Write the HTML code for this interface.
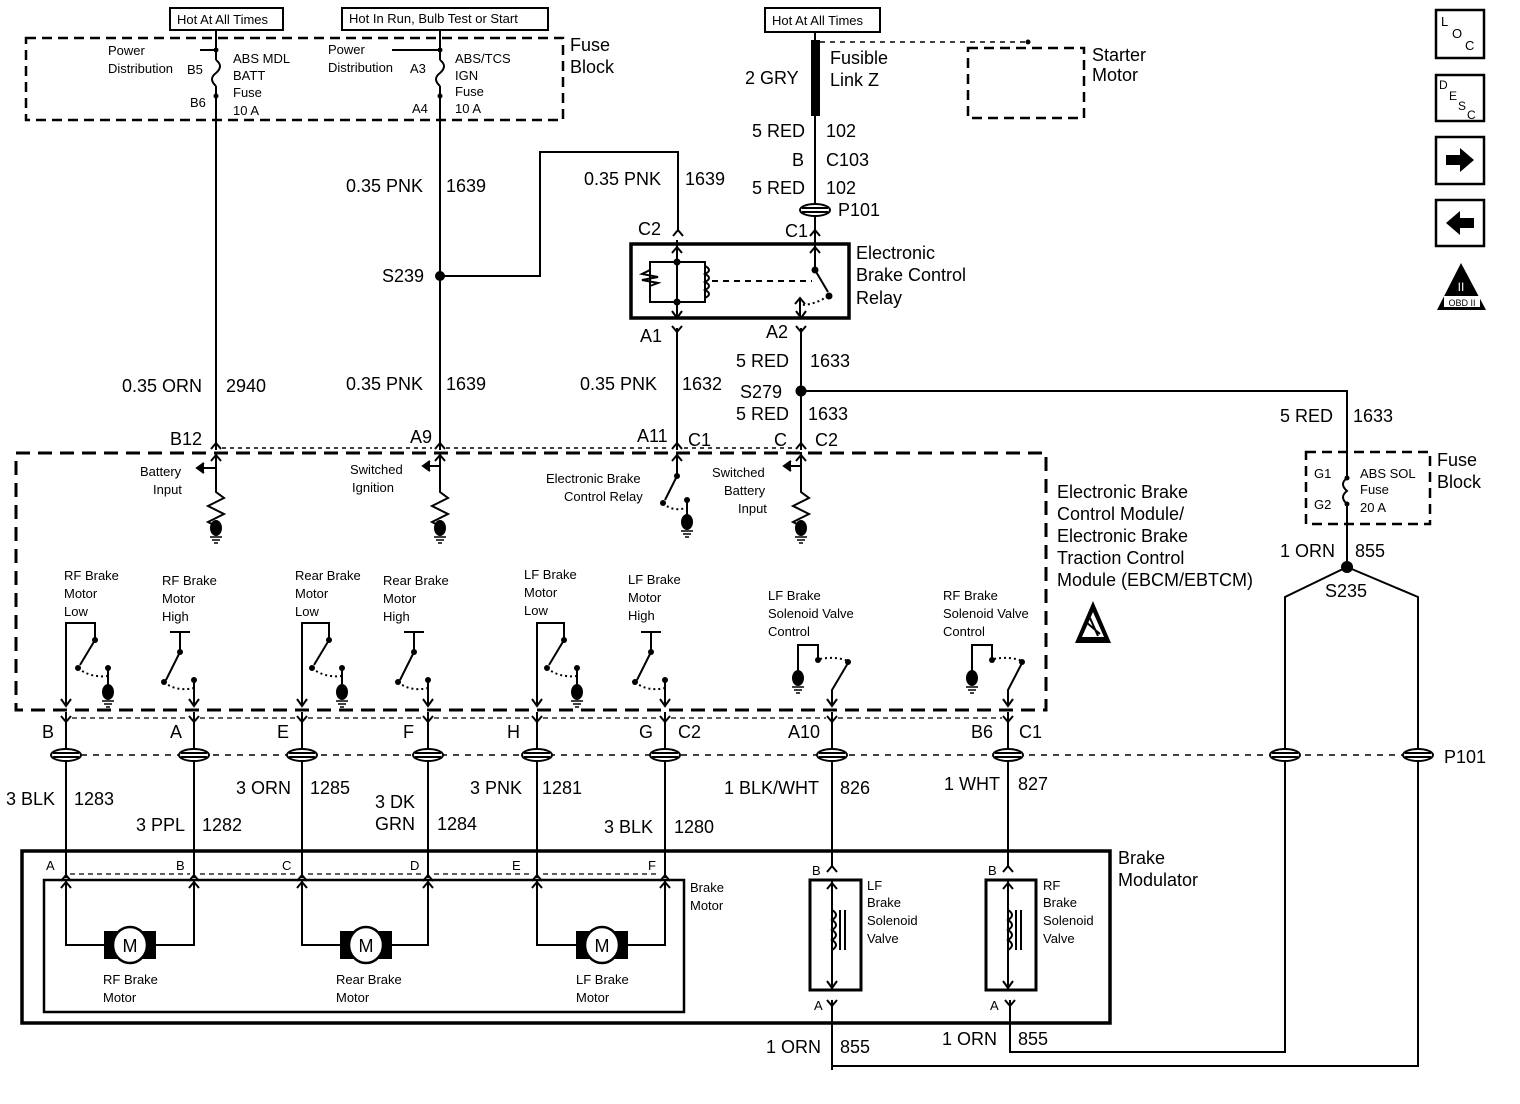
<!DOCTYPE html>
<html><head><meta charset="utf-8"><style>
html,body{margin:0;padding:0;background:#fff}
svg{display:block}
text{font-family:"Liberation Sans",Arial,sans-serif;fill:#000}
.w{font-size:18px}
.s{font-size:13px}
</style></head><body>
<svg width="1520" height="1104" viewBox="0 0 1520 1104" xmlns="http://www.w3.org/2000/svg">
<defs>
<g id="gnd"><ellipse cx="0" cy="0" rx="6" ry="8" fill="#000"/><line x1="-6" y1="9" x2="6" y2="9" stroke="#000" stroke-width="1.5"/><line x1="-4" y1="12" x2="4" y2="12" stroke="#000" stroke-width="1.5"/><line x1="-2" y1="15" x2="2" y2="15" stroke="#000" stroke-width="1.5"/></g>
<g id="pc"><ellipse cx="0" cy="0" rx="15" ry="6" fill="#fff" stroke="#000" stroke-width="2"/><line x1="-13" y1="-2" x2="13" y2="-2" stroke="#000" stroke-width="2"/><line x1="-13" y1="2" x2="13" y2="2" stroke="#000" stroke-width="2"/></g>
<g id="yd"><polyline points="-5,-6 0,0 5,-6" fill="none" stroke="#000" stroke-width="2"/></g>
<g id="yu"><polyline points="-5,6 0,0 5,6" fill="none" stroke="#000" stroke-width="2"/></g>
<g id="ad"><polyline points="-5,-7 0,0 5,-7" fill="none" stroke="#000" stroke-width="2"/></g>
<g id="motor"><rect x="-26" y="-14" width="52" height="28" fill="#000"/><ellipse cx="0" cy="0" rx="17" ry="18" fill="#fff" stroke="#000" stroke-width="2.5"/></g>
</defs>
<g stroke="#000" stroke-width="2" fill="none">
<!-- top label boxes -->
<rect x="170" y="8" width="113" height="22"/>
<rect x="342" y="8" width="206" height="22"/>
<rect x="765" y="8" width="115" height="24"/>
<!-- fuse block dashed -->
<rect x="26" y="38" width="537" height="82" stroke-dasharray="10,6" stroke-width="2.5"/>
<!-- wires top -->
<path d="M216 30 V60 M216 86 V450"/>
<path d="M216 60 q8 6 0 13 q-8 6 0 13"/>
<path d="M440 30 V60 M440 86 V450"/>
<path d="M440 60 q8 6 0 13 q-8 6 0 13"/>
<path d="M216 50 H200 M440 50 H392"/>
<path d="M440 276 H540 V152 H678 V232"/>
<!-- right top -->
<path d="M815 32 V40 M815 116 V240"/>
<path d="M820 42 H1028" stroke-dasharray="5,5" stroke-width="1.5"/>
<rect x="968" y="48" width="116" height="70" stroke-dasharray="10,6" stroke-width="2.5"/>
<!-- relay -->
<rect x="631" y="244" width="218" height="74" stroke-width="3.5"/>
<path d="M677 240 V318 M677 262 H705 V302 H650 V262 H677"/>
<path d="M705 266 q8 4 0 8 q8 4 0 8 q8 4 0 8 q8 4 0 8"/>
<path d="M650 270 l-8 4 l16 3 l-16 3 l16 3 l-8 3"/>
<path d="M712 281 H812" stroke-dasharray="6,5"/>
<path d="M815 240 V270 L828 292"/>
<path d="M828 296 Q815 305 800 305" stroke-dasharray="2,3"/>
<path d="M800 298 V318"/>
<!-- lower relay wires -->
<path d="M677 328 V450 M801 328 V450 M801 391 H1347 V478 M1347 504 V567"/>
<path d="M1347 478 q-8 6 0 13 q-8 6 0 13"/>
<rect x="1306" y="452" width="124" height="72" stroke-dasharray="10,6" stroke-width="2.5"/>
<path d="M1347 567 L1285 597 V1052 H1010 V1006 M1347 567 L1418 597 V1066 H832 V1006"/>
<!-- EBCM dashed box -->
<rect x="16" y="453" width="1030" height="257" stroke-dasharray="14,8" stroke-width="3"/>
<path d="M222 448 H432 M446 448 H670 M684 448 H795" stroke-dasharray="4,4" stroke-width="1.5"/>
<!-- inputs -->
<path d="M216 452 V492 L224 498 L208 506 L224 514 L208 522 L216 526 V522"/>
<path d="M216 468 H200"/><path d="M204 463 L197 468 L204 473" fill="#000"/>
<path d="M440 452 V492 L448 498 L432 506 L448 514 L432 522 L440 526 V522"/>
<path d="M440 466 H426"/><path d="M430 461 L423 466 L430 471" fill="#000"/>
<path d="M677 452 V476 L665 500"/>
<path d="M663 503 Q672 512 686 508" stroke-dasharray="2,3"/>
<path d="M687 500 V520"/>
<path d="M801 452 V492 L809 498 L793 506 L809 514 L793 522 L801 526 V522"/>
<path d="M801 466 H787"/><path d="M791 461 L784 466 L791 471" fill="#000"/>
<!-- motor switches: low -->
<path d="M66 706 V623 H95 V640 L80 665"/><path d="M78 668 Q90 678 108 676" stroke-dasharray="2,3"/><path d="M108 668 V690"/>
<path d="M302 706 V623 H329 V640 L314 665"/><path d="M312 668 Q324 678 342 676" stroke-dasharray="2,3"/><path d="M342 668 V690"/>
<path d="M537 706 V623 H564 V640 L549 665"/><path d="M547 668 Q559 678 577 676" stroke-dasharray="2,3"/><path d="M577 668 V690"/>
<!-- high -->
<path d="M170 632 H190 M180 632 V652 L166 680"/><path d="M164 682 Q176 692 194 688" stroke-dasharray="2,3"/><path d="M194 680 V706"/>
<path d="M404 632 H424 M414 632 V652 L400 680"/><path d="M398 682 Q410 692 428 688" stroke-dasharray="2,3"/><path d="M428 678 V706"/>
<path d="M641 632 H661 M651 632 V652 L637 680"/><path d="M635 682 Q647 692 665 688" stroke-dasharray="2,3"/><path d="M665 678 V706"/>
<!-- solenoid controls -->
<path d="M798 672 V645 H818 V660"/><path d="M820 659 Q836 656 848 661" stroke-dasharray="2,3"/><path d="M848 663 L832 690 V706"/>
<path d="M972 672 V645 H992 V660"/><path d="M994 659 Q1010 656 1022 661" stroke-dasharray="2,3"/><path d="M1022 663 L1008 690 V706"/>
<!-- connector row wires -->
<path d="M66 712 V878 M194 712 V878 M302 712 V878 M428 712 V878 M537 712 V878 M665 712 V878 M832 712 V868 M1008 712 V868"/>
<path d="M72 718 H188 M200 718 H296 M308 718 H422 M434 718 H531 M543 718 H659 M671 718 H826 M838 718 H1002" stroke-dasharray="5,4" stroke-width="1.2"/>
<path d="M81 755 H1430" stroke-dasharray="6,6" stroke-width="1.5"/>
<!-- modulator -->
<rect x="22" y="851" width="1088" height="172" stroke-width="3.5"/>
<rect x="44" y="880" width="640" height="132" stroke-width="2.5"/>
<path d="M70 874 H190 M200 874 H296 M308 874 H422 M434 874 H531 M543 874 H659" stroke-dasharray="5,4" stroke-width="1.2"/>
<path d="M66 880 V945 H194 V880 M302 880 V945 H428 V880 M537 880 V945 H665 V880"/>
<!-- solenoids -->
<rect x="810" y="880" width="51" height="110" stroke-width="3"/>
<rect x="986" y="880" width="50" height="110" stroke-width="3"/>
<path d="M832 880 V990 M1008 880 V990"/>
<path d="M832 910 q8 5 0 10 q8 5 0 10 q8 5 0 10 q8 5 0 10"/>
<path d="M840 910 V950 M845 910 V950"/>
<path d="M1008 910 q8 5 0 10 q8 5 0 10 q8 5 0 10 q8 5 0 10"/>
<path d="M1016 910 V950 M1021 910 V950"/>
<path d="M832 1000 V1070 M1010 1000 V1052"/>
</g>
<!-- black fills -->
<rect x="811" y="40" width="9" height="76" fill="#000"/>
<g fill="#000">
<circle cx="440" cy="276" r="5"/><circle cx="801" cy="391" r="5.5"/><circle cx="1347" cy="567" r="6"/>
<circle cx="216" cy="50" r="2.5"/><circle cx="440" cy="50" r="2.5"/><circle cx="216" cy="96" r="2.5"/><circle cx="440" cy="96" r="2.5"/>
<circle cx="677" cy="262" r="3.5"/><circle cx="677" cy="302" r="3.5"/><circle cx="815" cy="270" r="3.5"/><circle cx="829" cy="296" r="3.5"/>
<circle cx="1028" cy="42" r="2.5"/>
<circle cx="95" cy="640" r="3"/><circle cx="78" cy="668" r="3"/><circle cx="108" cy="668" r="3"/>
<circle cx="329" cy="640" r="3"/><circle cx="312" cy="668" r="3"/><circle cx="342" cy="668" r="3"/>
<circle cx="564" cy="640" r="3"/><circle cx="547" cy="668" r="3"/><circle cx="577" cy="668" r="3"/>
<circle cx="180" cy="652" r="3"/><circle cx="164" cy="682" r="3"/><circle cx="194" cy="680" r="3"/>
<circle cx="414" cy="652" r="3"/><circle cx="398" cy="682" r="3"/><circle cx="428" cy="680" r="3"/>
<circle cx="651" cy="652" r="3"/><circle cx="635" cy="682" r="3"/><circle cx="665" cy="680" r="3"/>
<circle cx="818" cy="660" r="3"/><circle cx="848" cy="662" r="3"/><circle cx="972" cy="660" r="0"/><circle cx="992" cy="660" r="3"/><circle cx="1022" cy="662" r="3"/>
<circle cx="677" cy="476" r="3"/><circle cx="663" cy="503" r="3"/><circle cx="687" cy="500" r="3"/>
<circle cx="1347" cy="478" r="2.5"/><circle cx="1347" cy="504" r="2.5"/>
</g>
<!-- grounds -->
<use href="#gnd" x="216" y="528"/><use href="#gnd" x="440" y="528"/><use href="#gnd" x="687" y="522"/><use href="#gnd" x="801" y="528"/>
<use href="#gnd" x="108" y="692"/><use href="#gnd" x="342" y="692"/><use href="#gnd" x="577" y="692"/>
<use href="#gnd" x="798" y="678"/><use href="#gnd" x="972" y="678"/>
<!-- connectors -->
<use href="#pc" x="815" y="210"/>
<use href="#pc" x="66" y="755"/><use href="#pc" x="194" y="755"/><use href="#pc" x="302" y="755"/><use href="#pc" x="428" y="755"/><use href="#pc" x="537" y="755"/><use href="#pc" x="665" y="755"/><use href="#pc" x="832" y="755"/><use href="#pc" x="1008" y="755"/><use href="#pc" x="1285" y="755"/><use href="#pc" x="1418" y="755"/>
<use href="#yu" x="216" y="443"/><use href="#yu" x="440" y="443"/><use href="#yu" x="677" y="443"/><use href="#yu" x="801" y="443"/>
<use href="#yu" x="678" y="230"/><use href="#yu" x="815" y="230"/>
<use href="#yd" x="677" y="332"/><use href="#yd" x="801" y="332"/>
<use href="#yd" x="66" y="722"/><use href="#yd" x="194" y="722"/><use href="#yd" x="302" y="722"/><use href="#yd" x="428" y="722"/><use href="#yd" x="537" y="722"/><use href="#yd" x="665" y="722"/><use href="#yd" x="832" y="722"/><use href="#yd" x="1008" y="722"/>
<use href="#ad" x="66" y="706"/><use href="#ad" x="194" y="706"/><use href="#ad" x="302" y="706"/><use href="#ad" x="428" y="706"/><use href="#ad" x="537" y="706"/><use href="#ad" x="665" y="706"/><use href="#ad" x="832" y="706"/><use href="#ad" x="1008" y="706"/>
<use href="#ad" x="801" y="318"/><use href="#ad" x="677" y="318"/>
<use href="#yu" x="66" y="875"/><use href="#yu" x="194" y="875"/><use href="#yu" x="302" y="875"/><use href="#yu" x="428" y="875"/><use href="#yu" x="537" y="875"/><use href="#yu" x="665" y="875"/><use href="#yu" x="832" y="866"/><use href="#yu" x="1008" y="866"/>
<use href="#yu" x="66" y="882"/><use href="#yu" x="194" y="882"/><use href="#yu" x="302" y="882"/><use href="#yu" x="428" y="882"/><use href="#yu" x="537" y="882"/><use href="#yu" x="665" y="882"/>
<use href="#yu" x="677" y="247"/><use href="#yu" x="815" y="247"/><use href="#yu" x="800" y="298"/>
<use href="#yu" x="832" y="883"/><use href="#yu" x="1008" y="883"/><use href="#ad" x="832" y="988"/><use href="#ad" x="1008" y="988"/>
<use href="#yd" x="832" y="1006"/><use href="#yd" x="1010" y="1006"/>
<use href="#yu" x="216" y="455"/><use href="#yu" x="440" y="455"/><use href="#yu" x="677" y="455"/><use href="#yu" x="801" y="455"/>
<use href="#motor" x="130" y="945"/><use href="#motor" x="366" y="945"/><use href="#motor" x="602" y="945"/>
<text x="130" y="952" font-size="18" text-anchor="middle">M</text><text x="366" y="952" font-size="18" text-anchor="middle">M</text><text x="602" y="952" font-size="18" text-anchor="middle">M</text>
<!-- small texts -->
<g class="s">
<text x="177" y="24">Hot At All Times</text>
<text x="349" y="23">Hot In Run, Bulb Test or Start</text>
<text x="772" y="25">Hot At All Times</text>
<text x="108" y="55">Power</text><text x="108" y="73">Distribution</text><text x="187" y="74">B5</text><text x="190" y="107">B6</text>
<text x="233" y="63">ABS MDL</text><text x="233" y="80">BATT</text><text x="233" y="97">Fuse</text><text x="233" y="115">10 A</text>
<text x="328" y="54">Power</text><text x="328" y="72">Distribution</text><text x="410" y="73">A3</text><text x="412" y="113">A4</text>
<text x="455" y="63">ABS/TCS</text><text x="455" y="80">IGN</text><text x="455" y="96">Fuse</text><text x="455" y="113">10 A</text>
<text x="140" y="476">Battery</text><text x="153" y="494">Input</text>
<text x="350" y="474">Switched</text><text x="352" y="492">Ignition</text>
<text x="546" y="483">Electronic Brake</text><text x="564" y="501">Control Relay</text>
<text x="712" y="477">Switched</text><text x="724" y="495">Battery</text><text x="738" y="513">Input</text>
<text x="64" y="580">RF Brake</text><text x="64" y="598">Motor</text><text x="64" y="616">Low</text>
<text x="162" y="585">RF Brake</text><text x="162" y="603">Motor</text><text x="162" y="621">High</text>
<text x="295" y="580">Rear Brake</text><text x="295" y="598">Motor</text><text x="295" y="616">Low</text>
<text x="383" y="585">Rear Brake</text><text x="383" y="603">Motor</text><text x="383" y="621">High</text>
<text x="524" y="579">LF Brake</text><text x="524" y="597">Motor</text><text x="524" y="615">Low</text>
<text x="628" y="584">LF Brake</text><text x="628" y="602">Motor</text><text x="628" y="620">High</text>
<text x="768" y="600">LF Brake</text><text x="768" y="618">Solenoid Valve</text><text x="768" y="636">Control</text>
<text x="943" y="600">RF Brake</text><text x="943" y="618">Solenoid Valve</text><text x="943" y="636">Control</text>
<text x="1314" y="478">G1</text><text x="1314" y="509">G2</text>
<text x="1360" y="478">ABS SOL</text><text x="1360" y="494">Fuse</text><text x="1360" y="512">20 A</text>
<text x="46" y="870">A</text><text x="176" y="870">B</text><text x="282" y="870">C</text><text x="410" y="870">D</text><text x="512" y="870">E</text><text x="648" y="870">F</text>
<text x="690" y="892">Brake</text><text x="690" y="910">Motor</text>
<text x="103" y="984">RF Brake</text><text x="103" y="1002">Motor</text>
<text x="336" y="984">Rear Brake</text><text x="336" y="1002">Motor</text>
<text x="576" y="984">LF Brake</text><text x="576" y="1002">Motor</text>
<text x="812" y="875">B</text><text x="988" y="875">B</text><text x="814" y="1010">A</text><text x="990" y="1010">A</text>
<text x="867" y="890">LF</text><text x="867" y="907">Brake</text><text x="867" y="925">Solenoid</text><text x="867" y="943">Valve</text>
<text x="1043" y="890">RF</text><text x="1043" y="907">Brake</text><text x="1043" y="925">Solenoid</text><text x="1043" y="943">Valve</text>
</g>
<!-- wire labels -->
<g class="w">
<text x="570" y="51">Fuse</text><text x="570" y="73">Block</text>
<text x="830" y="64">Fusible</text><text x="830" y="86">Link Z</text>
<text x="745" y="84">2 GRY</text>
<text x="1092" y="61">Starter</text><text x="1092" y="81">Motor</text>
<text x="752" y="137">5 RED</text><text x="826" y="137">102</text>
<text x="792" y="166">B</text><text x="826" y="166">C103</text>
<text x="752" y="194">5 RED</text><text x="826" y="194">102</text>
<text x="838" y="216">P101</text>
<text x="346" y="192">0.35 PNK</text><text x="446" y="192">1639</text>
<text x="584" y="185">0.35 PNK</text><text x="685" y="185">1639</text>
<text x="638" y="235">C2</text><text x="785" y="237">C1</text>
<text x="856" y="259">Electronic</text><text x="856" y="281">Brake Control</text><text x="856" y="304">Relay</text>
<text x="382" y="282">S239</text>
<text x="640" y="342">A1</text><text x="766" y="338">A2</text>
<text x="736" y="367">5 RED</text><text x="810" y="367">1633</text>
<text x="740" y="398">S279</text>
<text x="736" y="420">5 RED</text><text x="808" y="420">1633</text>
<text x="1280" y="422">5 RED</text><text x="1353" y="422">1633</text>
<text x="122" y="392">0.35 ORN</text><text x="226" y="392">2940</text>
<text x="346" y="390">0.35 PNK</text><text x="446" y="390">1639</text>
<text x="580" y="390">0.35 PNK</text><text x="682" y="390">1632</text>
<text x="170" y="445">B12</text><text x="410" y="443">A9</text><text x="637" y="442">A11</text><text x="688" y="446">C1</text>
<text x="774" y="446">C</text><text x="815" y="446">C2</text>
<text x="1437" y="466">Fuse</text><text x="1437" y="488">Block</text>
<text x="1280" y="557">1 ORN</text><text x="1355" y="557">855</text>
<text x="1325" y="597">S235</text>
<text x="1057" y="498">Electronic Brake</text><text x="1057" y="520">Control Module/</text><text x="1057" y="542">Electronic Brake</text><text x="1057" y="564">Traction Control</text><text x="1057" y="586">Module (EBCM/EBTCM)</text>
<text x="42" y="738">B</text><text x="170" y="738">A</text><text x="277" y="738">E</text><text x="403" y="738">F</text><text x="507" y="738">H</text><text x="639" y="738">G</text><text x="678" y="738">C2</text>
<text x="788" y="738">A10</text><text x="971" y="738">B6</text><text x="1019" y="738">C1</text>
<text x="1444" y="763">P101</text>
<text x="6" y="805">3 BLK</text><text x="74" y="805">1283</text>
<text x="136" y="831">3 PPL</text><text x="202" y="831">1282</text>
<text x="236" y="794">3 ORN</text><text x="310" y="794">1285</text>
<text x="375" y="808">3 DK</text><text x="375" y="830">GRN</text><text x="437" y="830">1284</text>
<text x="470" y="794">3 PNK</text><text x="542" y="794">1281</text>
<text x="604" y="833">3 BLK</text><text x="674" y="833">1280</text>
<text x="724" y="794">1 BLK/WHT</text><text x="840" y="794">826</text>
<text x="944" y="790">1 WHT</text><text x="1018" y="790">827</text>
<text x="1118" y="864">Brake</text><text x="1118" y="886">Modulator</text>
<text x="766" y="1053">1 ORN</text><text x="840" y="1053">855</text>
<text x="942" y="1045">1 ORN</text><text x="1018" y="1045">855</text>
</g>
<!-- ESD triangle -->
<polygon points="1093,601 1075,643 1111,643" fill="#000"/>
<polygon points="1093,612 1082,637 1104,637" fill="#fff"/>
<path d="M1086 622 L1100 634 M1090 618 L1098 636" stroke="#000" stroke-width="2"/>
<!-- right icons -->
<g fill="none" stroke="#000" stroke-width="2.5">
<rect x="1436" y="10" width="48" height="48"/>
<rect x="1436" y="75" width="48" height="46"/>
<rect x="1436" y="137" width="48" height="47"/>
<rect x="1436" y="200" width="48" height="46"/>
</g>
<text x="1441" y="26" font-size="13">L</text><text x="1452" y="38" font-size="13">O</text><text x="1465" y="50" font-size="13">C</text>
<text x="1439" y="89" font-size="12">D</text><text x="1449" y="100" font-size="12">E</text><text x="1458" y="110" font-size="12">S</text><text x="1467" y="119" font-size="12">C</text>
<polygon points="1446,155 1460,155 1460,148 1474,160 1460,172 1460,165 1446,165" fill="#000"/>
<polygon points="1474,218 1460,218 1460,211 1446,223 1460,235 1460,228 1474,228" fill="#000"/>
<polygon points="1461,263 1437,310 1486,310" fill="#000"/>
<rect x="1444" y="296" width="36" height="11" fill="#fff"/>
<text x="1462" y="306" font-size="9" text-anchor="middle">OBD II</text>
<text x="1461" y="291" font-size="12" text-anchor="middle" style="fill:#fff">II</text>
</svg>
</body></html>
